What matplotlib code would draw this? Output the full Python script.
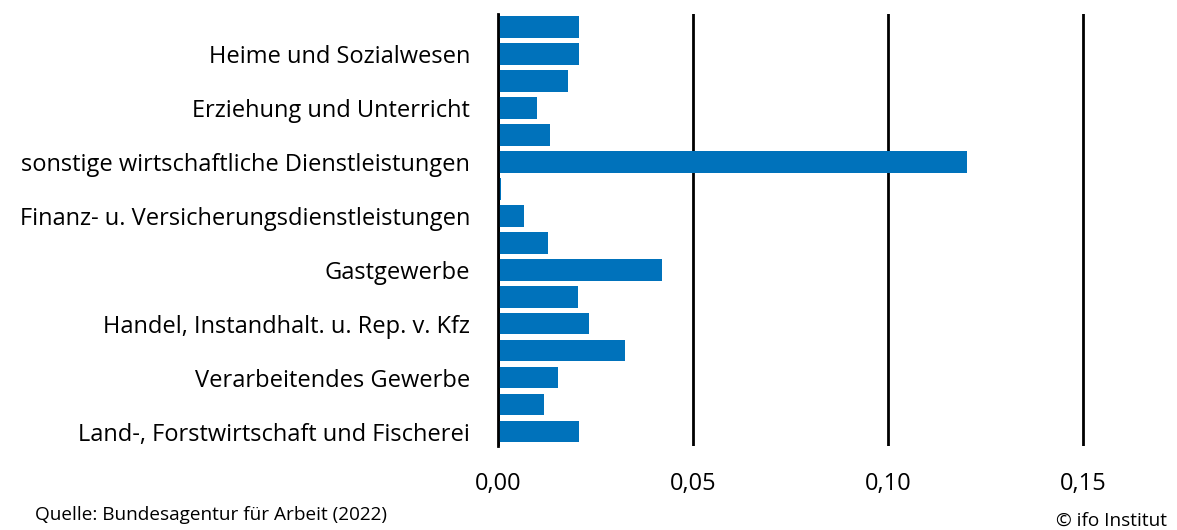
import matplotlib.pyplot as plt
import numpy as np

plt.rcParams['font.family'] = ['Open Sans', 'DejaVu Sans']

##data (top to bottom)
labels = ["", "Heime und Sozialwesen", "", "Erziehung und Unterricht", "",
          "sonstige wirtschaftliche Dienstleistungen", "",
          "Finanz- u. Versicherungsdienstleistungen", "", "Gastgewerbe", "",
          "Handel, Instandhalt. u. Rep. v. Kfz", "", "Verarbeitendes Gewerbe", "",
          "Land-, Forstwirtschaft und Fischerei"]
values = [0.0208, 0.0209, 0.0180, 0.0101, 0.0134, 0.1204, 0.0008, 0.0068,
          0.0129, 0.0422, 0.0206, 0.0234, 0.0326, 0.0153, 0.0117, 0.0209]
xticks = [0.0, 0.05, 0.10, 0.15]
xticklabels = ["0,00", "0,05", "0,10", "0,15"]

##plot
fig = plt.figure(figsize=(11.77, 5.30), dpi=100)
ax = fig.add_axes([0.423, 0.1585, 0.5004, 0.815])

y = np.arange(len(values))
ax.barh(y, values, height=0.78, color="#0072bb", zorder=3)
ax.set_ylim(len(values) - 0.5 + 0.02, -0.48)
ax.set_xlim(0, 0.151)

ax.set_yticks(y)
ax.set_yticklabels(labels, fontsize=17)
ax.set_xticks(xticks)
ax.set_xticklabels(xticklabels, fontsize=17)
ax.tick_params(axis="y", length=0, pad=20)
ax.tick_params(axis="x", length=0, pad=19)

for s in ["top", "right", "bottom"]:
    ax.spines[s].set_visible(False)
ax.spines["left"].set_linewidth(2)
ax.spines["left"].set_zorder(4)
ax.grid(axis="x", color="black", linewidth=2, zorder=1)
ax.set_axisbelow(True)

fig.text(35 / 1177, 1 - 515 / 530, "Quelle: Bundesagentur für Arbeit (2022)",
         fontsize=13.7, va="center", ha="left")
fig.text(1167 / 1177, 1 - 521 / 530, "© ifo Institut",
         fontsize=13.7, va="center", ha="right")

fig.savefig("out.png", dpi=100)
